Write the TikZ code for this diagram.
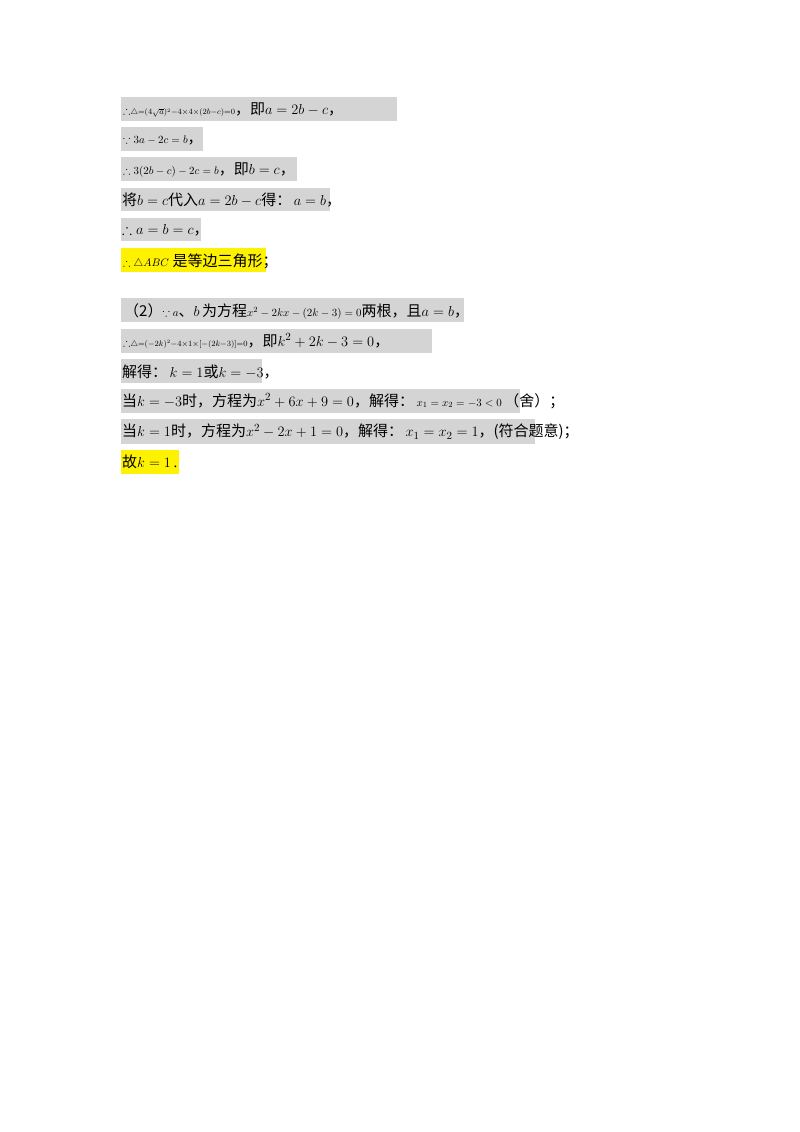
\documentclass[tikz,border=0pt]{standalone}
\usepackage{fontspec}
\setmainfont{Liberation Serif}
\newfontfamily\cjk{Noto Sans CJK SC}
\usepackage{amssymb}
\tikzset{
 gbox/.style={fill=black!17,draw=none},
 ybox/.style={fill=yellow,draw=none},
 ln/.style={anchor=west,inner sep=0pt,font=\fontsize{15}{18}\selectfont},
 sm/.style={anchor=west,inner sep=0pt,font=\fontsize{11}{13}\selectfont}
}
\newcommand{\cj}[1]{{\cjk #1}}
\begin{document}
\begin{tikzpicture}[x=1pt,y=-1pt]
\useasboundingbox[fill=white] (0,0) rectangle (800,1132);
\fill[gbox] (121,97) rectangle (397,121);
\fill[gbox] (121,127) rectangle (203,151);
\fill[gbox] (121,157) rectangle (297,181);
\fill[gbox] (121,188) rectangle (330,211);
\fill[gbox] (121,218) rectangle (201,241);
\fill[ybox] (121,248) rectangle (266,272);
\fill[gbox] (121,298) rectangle (464,322);
\fill[gbox] (121,329) rectangle (432,353);
\fill[gbox] (121,359) rectangle (262,383);
\fill[gbox] (121,389) rectangle (520,413);
\fill[gbox] (121,419) rectangle (535,444);
\fill[ybox] (121,450) rectangle (179,474);

\node[sm] (l1) at (123,110) {$\therefore\scriptstyle\triangle=(4\sqrt{a})^2-4\times4\times(2b-c)=0$\cj{\fontsize{15}{18}\selectfont ，即}{\fontsize{15}{18}\selectfont $a=2b-c$\cj{，}}};
\node[sm] (l2) at (123,140) {$\because 3a-2c=b$\cj{\fontsize{15}{18}\selectfont ，}};
\node[sm] (l3) at (123,170) {$\therefore 3(2b-c)-2c=b$\cj{\fontsize{15}{18}\selectfont ，即}{\fontsize{15}{18}\selectfont $b=c$\cj{，}}};
\node[ln] (l4) at (122,200) {\cj{将}$b=c$\cj{代入}$a=2b-c$\cj{得：}\,$a=b$\cj{，}};
\node[ln] (l5) at (122,230) {$\therefore a=b=c$\cj{，}};
\node[ln] (l6) at (123,261) {{\fontsize{11}{13}\selectfont$\therefore\triangle ABC$} \cj{是等边三角形；}};

\node[ln] (l7) at (124,311) {\cj{（2）}{\fontsize{11}{13}\selectfont$\because a$}\cj{、}$b$\,\cj{为方程}{\fontsize{11}{13}\selectfont$x^2-2kx-(2k-3)=0$}\cj{两根，且}$a=b$\cj{，}};
\node[sm] (l8) at (123,341) {$\therefore\scriptstyle\triangle=(-2k)^2-4\times1\times[-(2k-3)]=0$\cj{\fontsize{15}{18}\selectfont ，即}{\fontsize{15}{18}\selectfont $k^2+2k-3=0$\cj{，}}};
\node[ln] (l9) at (122,372) {\cj{解得：}\,$k=1$\cj{或}$k=-3$\cj{，}};
\node[ln] (l10) at (122,401) {\cj{当}$k=-3$\cj{时，方程为}$x^2+6x+9=0$\cj{，解得：}\,{\fontsize{11}{13}\selectfont$x_1=x_2=-3<0$}\,\cj{（舍）；}};
\node[ln] (l11) at (122,432) {\cj{当}$k=1$\cj{时，方程为}$x^2-2x+1=0$\cj{，解得：}\,$x_1=x_2=1$\cj{，(符合题意)；}};
\node[ln] (l12) at (122,462) {\cj{故}$k=1$\,.};
\end{tikzpicture}
\end{document}
